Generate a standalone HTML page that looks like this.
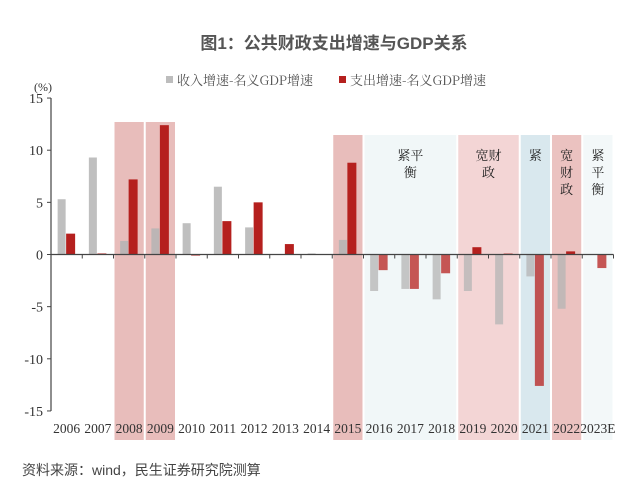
<!DOCTYPE html>
<html><head><meta charset="utf-8"><style>
body{margin:0;background:#fff;width:640px;height:492px;overflow:hidden}
svg text{font-family:"Liberation Serif","Noto Serif CJK SC",serif}
</style></head><body>
<svg id="chart" width="640" height="492" xmlns="http://www.w3.org/2000/svg">
<text x="334" y="49" text-anchor="middle" font-size="17" font-weight="bold" fill="#555" style="font-family:'Liberation Sans','Noto Sans CJK SC',sans-serif">图1：公共财政支出增速与GDP关系</text>
<text x="22" y="475" font-size="14" fill="#444" style="font-family:'Liberation Sans','Noto Sans CJK SC',sans-serif">资料来源：wind，民生证券研究院测算</text>
<g id="shades"></g>
<g id="bars"></g>
<g id="axes"></g>
<g>
<rect x="166" y="76" width="7" height="7" fill="#bdbdbd"/>
<text x="177" y="85" font-size="13" fill="#555" style="font-family:'Noto Serif CJK SC','Liberation Sans',sans-serif">收入增速-名义GDP增速</text>
<rect x="339" y="76" width="7" height="7" fill="#b5201e"/>
<text x="350" y="85" font-size="13" fill="#555" style="font-family:'Noto Serif CJK SC','Liberation Sans',sans-serif">支出增速-名义GDP增速</text>
</g>
<text x="34" y="91" font-size="12" fill="#333">(%)</text>
</svg>
<script>
const categories=["2006","2007","2008","2009","2010","2011","2012","2013","2014","2015","2016","2017","2018","2019","2020","2021","2022","2023E"];
const incomeGap=[5.3,9.3,1.3,2.5,3.0,6.5,2.6,0,0.1,1.4,-3.5,-3.3,-4.3,-3.5,-6.7,-2.1,-5.2,0];
const expenseGap=[2.0,0.1,7.2,12.4,-0.1,3.2,5.0,1.0,0,8.8,-1.5,-3.3,-1.8,0.7,0.1,-12.6,0.3,-1.3];
const yTicks=[15,10,5,0,-5,-10,-15];
const ns="http://www.w3.org/2000/svg";
const X0=51,BW=31.25,Y0=254.5,PU=10.43;
const y=v=>Y0-v*PU;
const xc=i=>X0+BW*(i+0.5);
function mk(tag,attrs,parent){const e=document.createElementNS(ns,tag);for(const k in attrs)e.setAttribute(k,attrs[k]);document.getElementById(parent).appendChild(e);return e;}
const regimes=[[2,2,"#e8bdbb",122,""],[3,3,"#e8bdbb",122,""],[9,9,"#e8bdbb",135,""],[10,12,"#f1f7f8",135,"紧平|衡"],[13,14,"#f3d5d5",135,"宽财|政"],[15,15,"#d9e8ee",135,"紧"],[16,16,"#ebc2c0",135,"宽|财|政"],[17,17,"#f3f8f9",135,"紧|平|衡"]];
regimes.forEach((r,k)=>{
  const x1=X0+BW*r[0]+1,x2=X0+BW*(r[1]+1)-1;
  const e=mk("rect",{x:x1,y:r[3],width:x2-x1,height:440-r[3],fill:r[2]},"shades");
  
  
  if(r[4]){const lines=r[4].split("|");lines.forEach((l,j)=>{
    const t=mk("text",{x:(x1+x2)/2,y:160+j*17,"text-anchor":"middle","font-size":"13",fill:"#222"},"shades");
    t.textContent=l;
    
    
  });}
});
categories.forEach((c,i)=>{
  const late=i>=10;
  const g=incomeGap[i],e=expenseGap[i];
  const b1=mk("rect",{x:xc(i)-9,y:Math.min(y(g),Y0),width:8,height:Math.abs(y(g)-Y0),fill:"#b4b4b4","fill-opacity":late?0.75:0.85},"bars");
  
  
  const b2=mk("rect",{x:xc(i)-0.5,y:Math.min(y(e),Y0),width:9,height:Math.abs(y(e)-Y0),fill:"#b5201e","fill-opacity":late&&i!=13&&i!=16?0.75:1},"bars");
  
  
  const t=mk("text",{x:xc(i),y:433,"text-anchor":"middle","font-size":"13.5",fill:"#333"},"axes");
  t.textContent=c;
  
  
  const tk=mk("line",{x1:X0+BW*(i+1),x2:X0+BW*(i+1),y1:Y0,y2:Y0+4,stroke:"#444"},"axes");
  
  
});
const ax=mk("line",{x1:X0,x2:X0,y1:y(15),y2:y(-15),stroke:"#444","stroke-width":1.2},"axes");


const xa=mk("line",{x1:X0,x2:X0+BW*18,y1:Y0,y2:Y0,stroke:"#444","stroke-width":1.2},"axes");


yTicks.forEach(v=>{
  const l=mk("line",{x1:X0-4,x2:X0,y1:y(v),y2:y(v),stroke:"#444"},"axes");
  
  
  const t=mk("text",{x:X0-8,y:y(v)+5,"text-anchor":"end","font-size":"14",fill:"#333"},"axes");
  t.textContent=v;
  
  
});
</script>
</body></html>
